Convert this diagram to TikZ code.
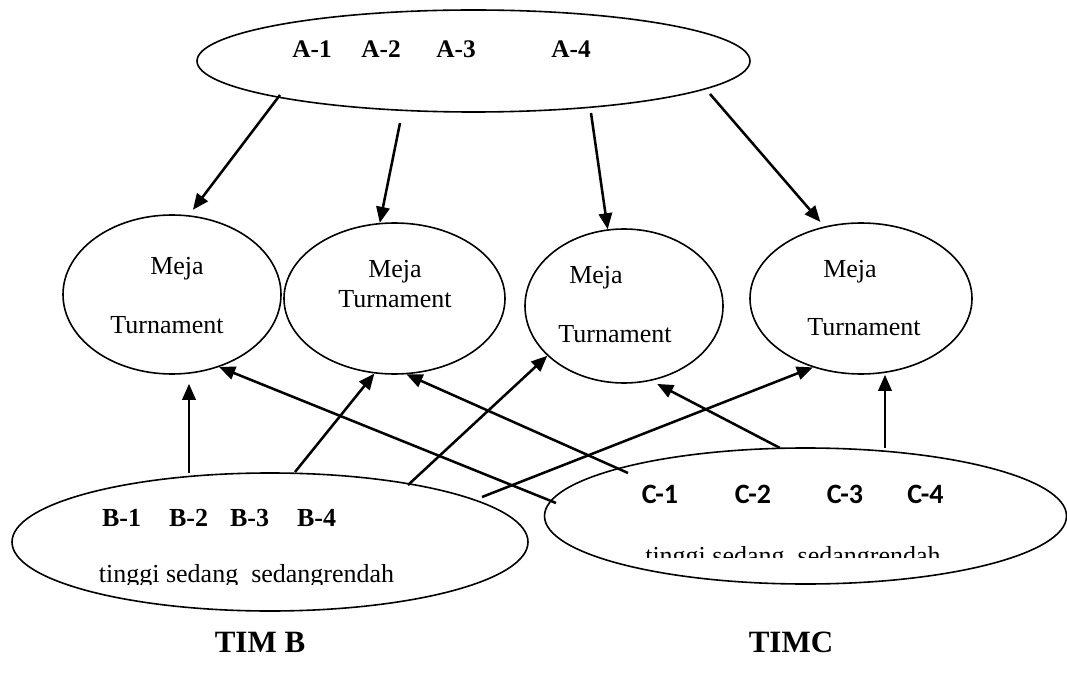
\documentclass[tikz,border=0pt]{standalone}
\usepackage{fontspec}
\setmainfont{Liberation Serif}
\newfontfamily\calfont{Carlito}
\usetikzlibrary{shapes.geometric,arrows.meta}
\tikzset{
  oval/.style={ellipse, draw, line width=1.2pt, inner sep=0pt},
  conn/.style={line width=1.9pt, -{Triangle[length=12pt,width=10pt]}},
  txt/.style={inner sep=0pt, anchor=base, font=\fontsize{19.5}{20}\selectfont},
  alabel/.style={inner sep=0pt, anchor=base, font=\fontsize{19}{20}\selectfont\bfseries},
  blabel/.style={inner sep=0pt, anchor=base, font=\fontsize{19.5}{20}\selectfont\bfseries},
  clabel/.style={inner sep=0pt, anchor=base, font=\fontsize{21}{22}\selectfont\calfont\bfseries},
  timlabel/.style={inner sep=0pt, anchor=base, font=\fontsize{23.25}{24}\selectfont\bfseries},
}
\begin{document}
\begin{tikzpicture}[x=0.75pt,y=-0.75pt]
\useasboundingbox (0,0) rectangle (1067,677);

% ellipses
\node[oval, minimum width=414.75pt, minimum height=76.5pt] (A) at (473.5,61) {};
\node[oval, minimum width=163.5pt, minimum height=119.25pt] (m1) at (172,294.5) {};
\node[oval, minimum width=165.75pt, minimum height=113.25pt] (m2) at (394.5,298.5) {};
\node[oval, minimum width=148.5pt, minimum height=115.5pt] (m3) at (624,306) {};
\node[oval, minimum width=166.5pt, minimum height=113.25pt] (m4) at (861,298.5) {};
\node[oval, minimum width=387pt, minimum height=103.5pt] (B) at (270,542) {};
\node[oval, minimum width=391.5pt, minimum height=102pt] (C) at (805.5,516) {};

% A labels
\node[alabel] (a1) at (312,58) {A-1};
\node[alabel] (a2) at (381,58) {A-2};
\node[alabel] (a3) at (456,58) {A-3};
\node[alabel] (a4) at (571,58) {A-4};

% Meja texts
\node[txt] (m1a) at (177,275) {Meja};
\node[txt] (m1b) at (167,333) {Turnament};
\node[txt] (m2a) at (395,277) {Meja};
\node[txt] (m2b) at (395,307) {Turnament};
\node[txt] (m3a) at (596,283) {Meja};
\node[txt] (m3b) at (615,342) {Turnament};
\node[txt] (m4a) at (850,277) {Meja};
\node[txt] (m4b) at (864,335) {Turnament};

% B labels
\node[blabel] (b1) at (121.5,526) {B-1};
\node[blabel] (b2) at (188.6,526) {B-2};
\node[blabel] (b3) at (249.5,526) {B-3};
\node[blabel] (b4) at (316.6,526) {B-4};
\begin{scope}
  \clip (80,540) rectangle (430,584);
  \node[txt, anchor=base west] (btxt) at (98.6,582.5) {tinggi sedang\ \ sedangrendah};
\end{scope}

% C labels
\node[clabel] (c1) at (660,503) {C-1};
\node[clabel] (c2) at (753,503) {C-2};
\node[clabel] (c3) at (845,503) {C-3};
\node[clabel] (c4) at (925.5,503) {C-4};
\begin{scope}
  \clip (630,530) rectangle (970,557);
  \node[txt, anchor=base west] (ctxt) at (645,564) {tinggi sedang\ \ sedangrendah};
\end{scope}

% team titles
\node[timlabel] (timb) at (260,652) {TIM B};
\node[timlabel] (timc) at (791,652) {TIMC};

% start points
\coordinate (a1s) at (280,95);
\coordinate (a2s) at (400,123);
\coordinate (a3s) at (591,113);
\coordinate (a4s) at (710,94);
\coordinate (b1s) at (189,473);
\coordinate (b2s) at (295,472);
\coordinate (b3s) at (408,485);
\coordinate (b4s) at (482,497);
\coordinate (c1s) at (556,503);
\coordinate (c2s) at (628,473);
\coordinate (c3s) at (780,448);
\coordinate (c4s) at (885,448);

% arrows from A
\draw[conn, shorten >=5pt] (a1s) -- (m1.78);
\draw[conn] (a2s) -- (m2.101);
\draw[conn] (a3s) -- (m3.102);
\draw[conn, shorten >=4.5pt] (a4s) -- (m4.117);

% arrows from B
\draw[conn, shorten >=6.75pt] (b1s) -- (b1s |- m1.south);
\draw[conn] (b2s) -- (m2.-105.4);
\draw[conn] (b3s) -- (m3.-147.6);
\draw[conn] (b4s) -- (m4.-125);

% arrows from C
\draw[conn] (c1s) -- (m1.-57.6);
\draw[conn] (c2s) -- (m2.-81.5);
\draw[conn, shorten >=5pt] (c3s) -- (m3.-70.9);
\draw[conn] (c4s) -- (c4s |- m4.south);
\end{tikzpicture}
\end{document}
